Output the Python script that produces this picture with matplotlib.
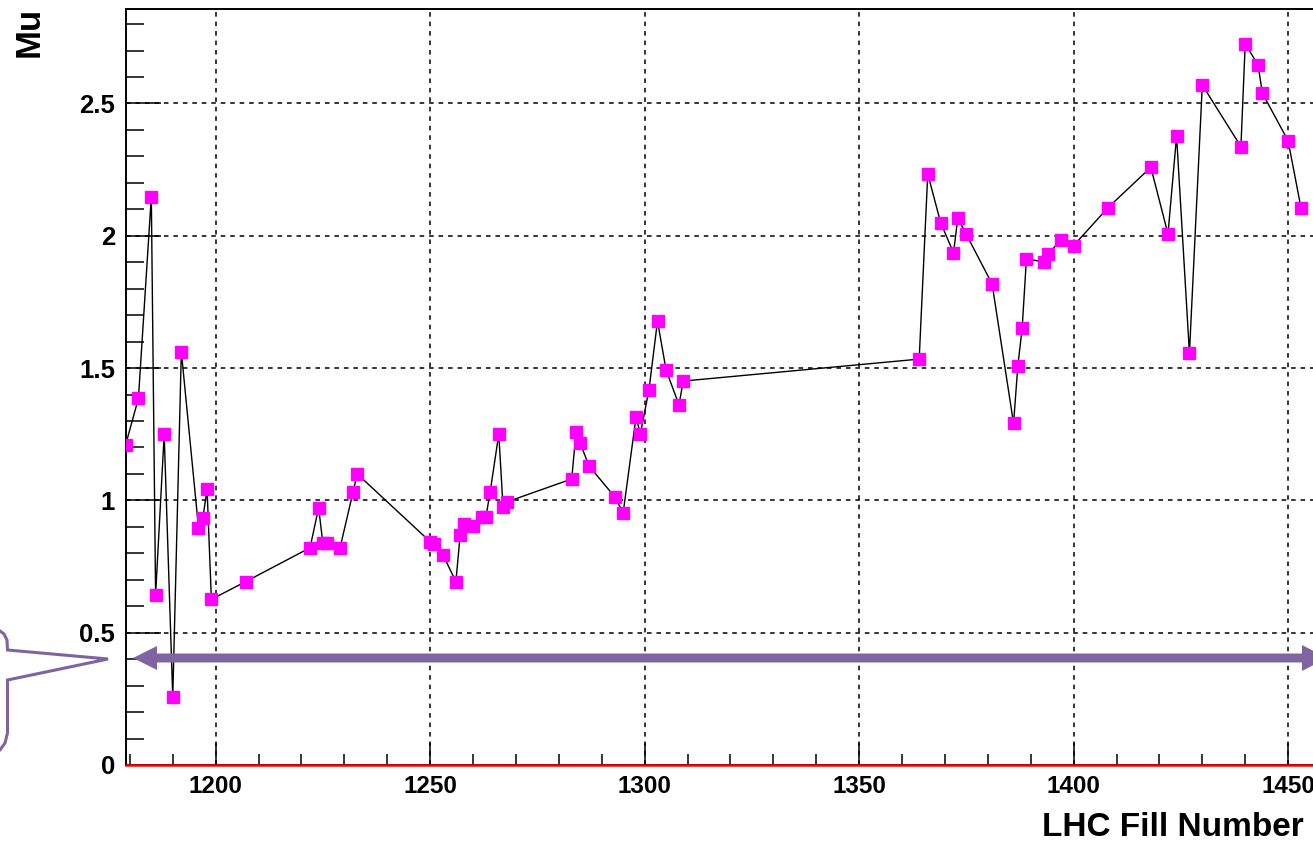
import matplotlib
matplotlib.use("Agg")
import matplotlib.pyplot as plt
from matplotlib.lines import Line2D
from matplotlib.patches import Polygon
from matplotlib.ticker import MultipleLocator

# LHC fill number vs mu
fills = [1179, 1182, 1185, 1186, 1188, 1190, 1192, 1196, 1197, 1198,
         1199, 1207, 1222, 1224, 1225, 1226, 1229, 1232, 1233, 1250,
         1251, 1253, 1256, 1257, 1258, 1260, 1262, 1263, 1264, 1266,
         1267, 1268, 1283, 1284, 1285, 1287, 1293, 1295, 1298, 1299,
         1301, 1303, 1305, 1308, 1309, 1364, 1366, 1369, 1372, 1373,
         1375, 1381, 1386, 1387, 1388, 1389, 1393, 1394, 1397, 1400,
         1408, 1418, 1422, 1424, 1427, 1430, 1439, 1440, 1443, 1444,
         1450, 1453]
mu = [1.209, 1.386, 2.148, 0.642, 1.250, 0.256, 1.562, 0.897, 0.932, 1.042,
      0.626, 0.693, 0.821, 0.972, 0.838, 0.838, 0.821, 1.030, 1.100, 0.844,
      0.835, 0.794, 0.693, 0.869, 0.911, 0.903, 0.936, 0.938, 1.033, 1.251,
      0.974, 0.995, 1.081, 1.257, 1.216, 1.131, 1.014, 0.954, 1.316, 1.251,
      1.417, 1.678, 1.493, 1.361, 1.451, 1.534, 2.234, 2.050, 1.936, 2.066,
      2.005, 1.818, 1.291, 1.509, 1.650, 1.912, 1.902, 1.930, 1.984, 1.963,
      2.106, 2.259, 2.007, 2.377, 1.556, 2.570, 2.337, 2.725, 2.646, 2.539,
      2.359, 2.106]
xticks = [1200, 1250, 1300, 1350, 1400, 1450]
yticks = [0, 0.5, 1, 1.5, 2, 2.5]
ytick_labels = ["0", "0.5", "1", "1.5", "2", "2.5"]

W, H = 1313, 842
PURPLE = "#8064A2"
FONT = "Liberation Sans"


def fx(px):
    return px / W


def fy(py):
    return 1 - py / H


fig = plt.figure(figsize=(W / 100, H / 100), dpi=100)
# axes runs off the right edge of the canvas, like the cropped original
ax = fig.add_axes([fx(126), fy(765), (1331 - 126) / W, (765 - 9.3) / H])

ax.plot(fills, mu, "-", color="black", lw=1.0, zorder=3)
ax.plot(fills, mu, "s", color="#ff00ff", ms=8.5, mec="#ff00ff", zorder=4)
ax.axhline(0, color="red", lw=1.8, zorder=5, clip_on=False)

ax.set_xlim(1179.1, 1460)
ax.set_ylim(0, 2.856)
ax.set_xticks(xticks)
ax.set_xticklabels([str(t) for t in xticks])
ax.set_yticks(yticks)
ax.set_yticklabels(ytick_labels)
ax.xaxis.set_minor_locator(MultipleLocator(10))
ax.yaxis.set_minor_locator(MultipleLocator(0.1))

ax.grid(True, which="major", color="black", lw=1.1, ls=(0, (3, 3.2)))
ax.set_axisbelow(True)
ax.tick_params(axis="y", which="major", direction="in", length=25,
               width=1.1, pad=8)
ax.tick_params(axis="y", which="minor", direction="in", length=13, width=1.1)
ax.tick_params(axis="x", which="major", direction="in", length=16,
               width=1.1, pad=7)
ax.tick_params(axis="x", which="minor", direction="in", length=8, width=1.1)
for lab in ax.get_yticklabels():
    lab.set_fontfamily(FONT)
    lab.set_fontweight("bold")
    lab.set_fontsize(18.5)
for lab in ax.get_xticklabels():
    lab.set_fontfamily(FONT)
    lab.set_fontweight("bold")
    lab.set_fontsize(17.5)
for sp in ax.spines.values():
    sp.set_linewidth(1.4)

fig.text(fx(1042), fy(836), "LHC Fill Number", family=FONT, weight="bold",
         fontsize=24, ha="left", va="baseline")
fig.text(fx(29), fy(7), "Mu", family=FONT, weight="bold", fontsize=25,
         rotation=90, ha="center", va="top")

# purple double arrow drawn over the plot
arrow = [(133, 658), (157, 646), (157, 653.5), (1302, 653.5), (1302, 645),
         (1327, 658), (1302, 671), (1302, 662.5), (157, 662.5), (157, 670)]
fig.add_artist(Polygon([(fx(a), fy(b)) for a, b in arrow], closed=True,
                       transform=fig.transFigure, color=PURPLE, lw=0,
                       zorder=10))

# callout bubble on the left, mostly off canvas
bubble = [(-20, 628), (0, 631), (4, 634), (7, 640), (7.5, 650), (108, 659),
          (7.5, 680), (7.5, 733), (5, 743), (0, 750), (-20, 753)]
fig.add_artist(Line2D([fx(a) for a, b in bubble], [fy(b) for a, b in bubble],
                      transform=fig.transFigure, color=PURPLE, lw=2.2,
                      solid_joinstyle="miter", zorder=10))

fig.savefig("out.png", dpi=100)
